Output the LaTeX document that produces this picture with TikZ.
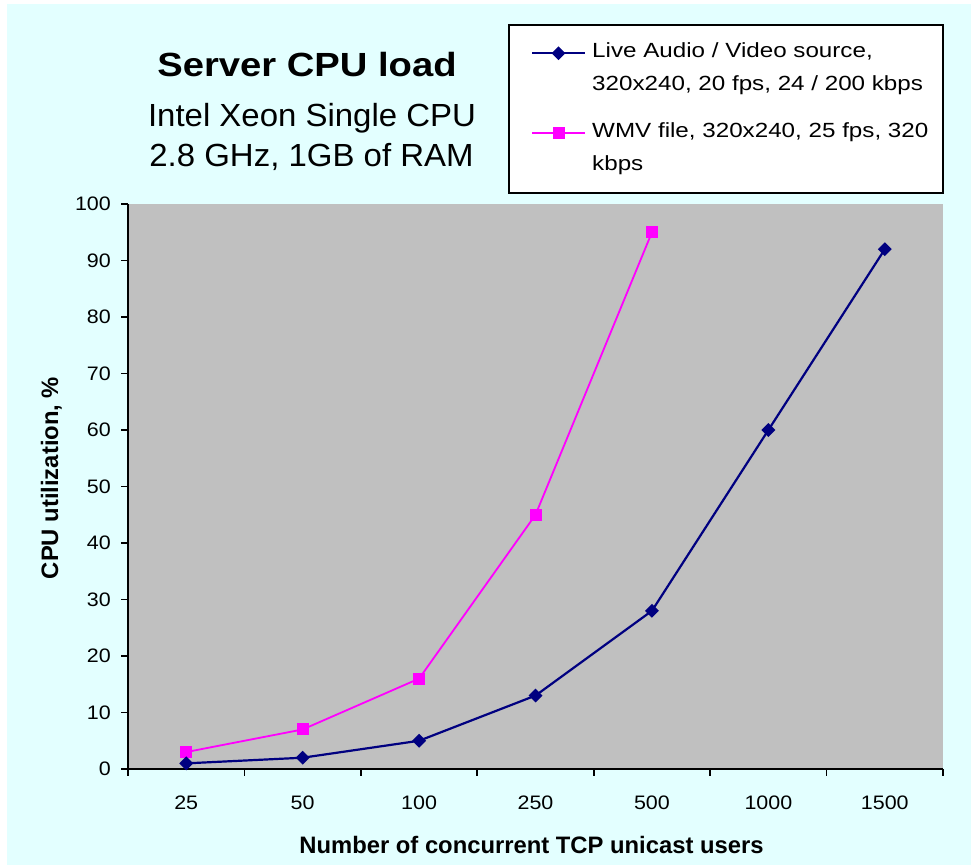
\documentclass[tikz,border=0pt]{standalone}
\usepackage{fontspec}
\setmainfont{Liberation Sans}
\usetikzlibrary{shapes.geometric}
\definecolor{bgcyan}{HTML}{E3FFFF}
\definecolor{plotgray}{HTML}{C0C0C0}
\definecolor{navycol}{HTML}{000080}
\definecolor{pinkcol}{HTML}{FF00FF}
\newcommand\hstr[2]{\scalebox{#1}[1]{#2}}
\begin{document}
\begin{tikzpicture}[x=1pt,y=-1pt,
  axisline/.style={line width=1.8pt,black},
  ticklab/.style={inner sep=0pt,font=\fontsize{19.5}{23}\selectfont},
  ylab/.style={ticklab,anchor=east},
  xlab/.style={ticklab,anchor=base},
  axtitle/.style={inner sep=0pt,anchor=base,font=\fontsize{23.8}{28}\selectfont\bfseries},
  legtext/.style={inner sep=0pt,anchor=base west,font=\fontsize{20.5}{24}\selectfont},
  blueser/.style={line width=2.2pt,draw=navycol},
  pinkser/.style={line width=1.8pt,draw=pinkcol},
  bluemark/.style={diamond,fill=navycol,inner sep=0pt,minimum size=14pt},
  pinkmark/.style={rectangle,fill=pinkcol,inner sep=0pt,minimum size=12pt},
]
\useasboundingbox (0,0) rectangle (971,865);
\fill[white] (0,0) rectangle (971,865);
\fill[bgcyan] (7,4) rectangle (971,865);

% title
\node[inner sep=0pt,anchor=base,font=\fontsize{33.5}{40}\selectfont\bfseries] (title) at (307,76) {\hstr{1.14}{Server CPU load}};
\node[inner sep=0pt,anchor=base,font=\fontsize{32}{38}\selectfont] (sub1) at (312,126) {\hstr{1.03}{Intel Xeon Single CPU}};
\node[inner sep=0pt,anchor=base,font=\fontsize{32}{38}\selectfont] (sub2) at (311.5,166) {\hstr{1.03}{2.8 GHz, 1GB of RAM}};

% legend
\node[draw=black,line width=1.8pt,fill=white,inner sep=0pt,minimum width=434pt,minimum height=168pt,anchor=north west] (legend) at (508,24) {};
\coordinate (lgA1) at (532,53.3);
\coordinate (lgA2) at (585,53.3);
\draw[blueser] (lgA1) -- (lgA2);
\node[bluemark] (lgAm) at (558.5,53.3) {};
\node[legtext] (lgAt1) at (592,57.3) {\hstr{1.18}{Live Audio / Video source,}};
\node[legtext] (lgAt2) at (592,90.3) {\hstr{1.18}{320x240, 20 fps, 24 / 200 kbps}};
\coordinate (lgB1) at (532,133.3);
\coordinate (lgB2) at (585,133.3);
\draw[pinkser] (lgB1) -- (lgB2);
\node[pinkmark] (lgBm) at (558.5,133.3) {};
\node[legtext] (lgBt1) at (592,137.3) {\hstr{1.18}{WMV file, 320x240, 25 fps, 320}};
\node[legtext] (lgBt2) at (592,170.3) {\hstr{1.18}{kbps}};

% plot area
\fill[plotgray] (128,204) rectangle (943,769);
\foreach \v in {0,10,...,100} {
  \draw[axisline] (121,769-5.65*\v) -- (128,769-5.65*\v);
  \node[ylab] (ylab\v) at (111,769-5.65*\v) {\hstr{1.1}{\v}};
}
\foreach \k in {0,...,7} {
  \draw[axisline] (128+116.43*\k,769) -- (128+116.43*\k,776);
}
\foreach \lab [count=\i from 0] in {25,50,100,250,500,1000,1500} {
  \node[xlab] (xlab\i) at (128+116.43*\i+58.2,809) {\hstr{1.1}{\lab}};
}
\draw[axisline] (128,204) -- (128,769) -- (943,769);

% axis titles
\node[axtitle] (xtitle) at (531.5,853) {Number of concurrent TCP unicast users};
\node[axtitle,rotate=90] (ytitle) at (58,478) {CPU utilization, \%};

% data points
\foreach \val [count=\i] in {1,2,5,13,28,60,92} {
  \coordinate (bc\i) at (128+116.43*\i-58.2,769-5.65*\val);
}
\foreach \val [count=\i] in {3,7,16,45,95} {
  \coordinate (pc\i) at (128+116.43*\i-58.2,769-5.65*\val);
}
\draw[pinkser] (pc1) -- (pc2) -- (pc3) -- (pc4) -- (pc5);
\draw[blueser] (bc1) -- (bc2) -- (bc3) -- (bc4) -- (bc5) -- (bc6) -- (bc7);
\foreach \i in {1,...,5} { \node[pinkmark] (pm\i) at (pc\i) {}; }
\foreach \i in {1,...,7} { \node[bluemark] (bm\i) at (bc\i) {}; }
\end{tikzpicture}
\end{document}
